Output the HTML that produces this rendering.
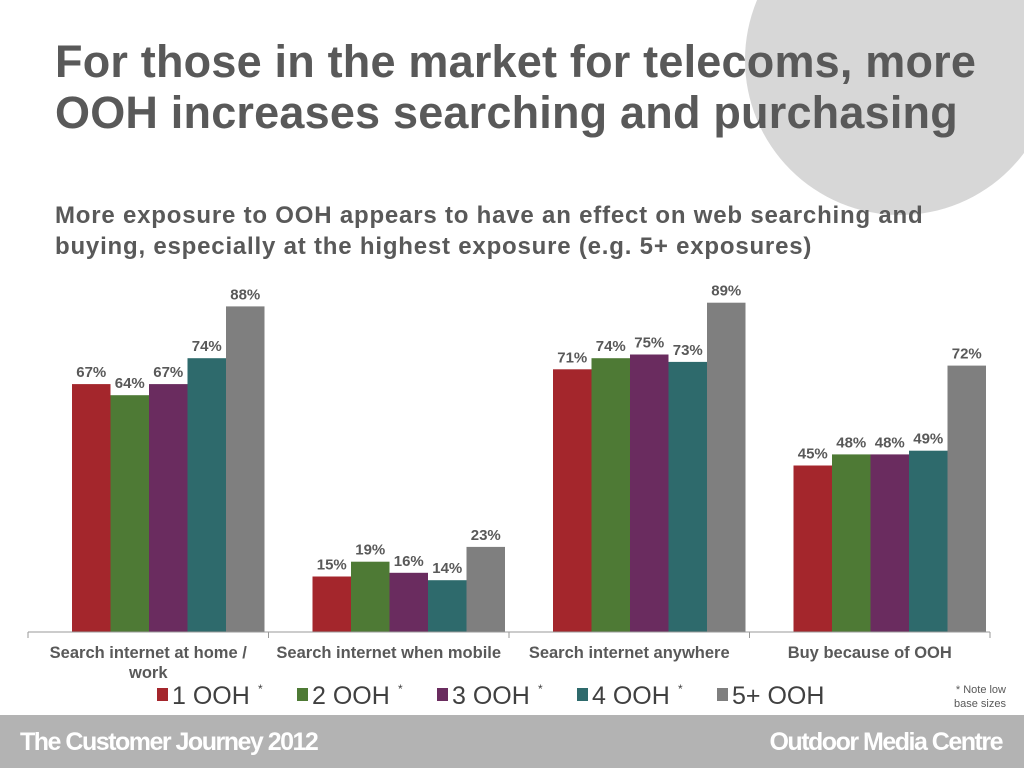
<!DOCTYPE html>
<html><head><meta charset="utf-8"><style>
body{margin:0;width:1024px;height:768px;overflow:hidden;background:#fff;font-family:"Liberation Sans",sans-serif;position:relative}
.t{position:absolute;color:#595959;font-weight:bold;white-space:nowrap}
</style></head><body>
<div style="position:absolute;left:745px;top:-95px;width:310px;height:310px;border-radius:50%;background:#d7d7d7"></div>
<div class="t" style="left:55px;top:36px;font-size:45px;line-height:51px;letter-spacing:0.2px">For those in the market for telecoms, more<br>OOH increases searching and purchasing</div>
<div class="t" style="left:55px;top:200px;font-size:24px;line-height:31px;letter-spacing:0.8px">More exposure to OOH appears to have an effect on web searching and<br>buying, especially at the highest exposure (e.g. 5+ exposures)</div>
<svg id="c" width="1024" height="768" style="position:absolute;left:0;top:0"></svg>
<div style="position:absolute;left:0;top:715px;width:1024px;height:53px;background:#b3b3b3">
<div style="position:absolute;left:20px;top:13px;color:#fff;font-weight:bold;font-size:25px;letter-spacing:-1.5px">The Customer Journey 2012</div>
<div style="position:absolute;right:22px;top:13px;color:#fff;font-weight:bold;font-size:25px;letter-spacing:-1.5px">Outdoor Media Centre</div>
</div>
<script>
const categories=["Search internet at home / work","Search internet when mobile","Search internet anywhere","Buy because of OOH"];
const s1=[67,15,71,45];
const s2=[64,19,74,48];
const s3=[67,16,75,48];
const s4=[74,14,73,49];
const s5=[88,23,89,72];
const seriesNames=["1 OOH","2 OOH","3 OOH","4 OOH","5+ OOH"];
const series=[s1,s2,s3,s4,s5];
const colors=["#a4262c","#4e7a35","#6a2c5f","#2e6a6c","#7f7f7f"];
const NS="http://www.w3.org/2000/svg",svg=document.getElementById('c');
const x0=28,x1=990,base=632,ppu=3.7,gw=(x1-x0)/categories.length,bw=38.5,off=44;
const y=v=>base-v*ppu;
function el(t,a){const e=document.createElementNS(NS,t);for(const k in a)e.setAttribute(k,a[k]);svg.appendChild(e);return e;}
categories.forEach((c,i)=>{
 series.forEach((s,j)=>{
  const bx=x0+i*gw+off+j*bw;
  const r=el('rect',{x:bx,y:y(s[i]),width:bw,height:s[i]*ppu,fill:colors[j]});
  
  
  const t=el('text',{x:bx+bw/2,y:y(s[i])-7,'text-anchor':'middle','font-size':15,'font-weight':'bold',fill:'#595959'});
  t.textContent=s[i]+'%';
  
  
 });
 const tk=el('line',{x1:x0+i*gw,x2:x0+i*gw,y1:base,y2:base+6,stroke:'#999'});
 
 
 const cx=x0+(i+0.5)*gw;
 let lines=i==0?["Search internet at home /","work"]:[c];
 lines.forEach((l,k)=>{
  const t=el('text',{x:cx,y:658+k*20,'text-anchor':'middle','font-size':16.5,'font-weight':'bold',fill:'#595959'});
  t.textContent=l;
  
  
 });
});
const ax=el('line',{x1:x0,x2:x1,y1:base,y2:base,stroke:'#999'});


const tl=el('line',{x1:x1,x2:x1,y1:base,y2:base+6,stroke:'#999'});


const lx=[157,297,437,577,717];
seriesNames.forEach((n,j)=>{
 const r=el('rect',{x:lx[j],y:688,width:11,height:13,fill:colors[j]});
 
 
 const t=el('text',{x:lx[j]+15,y:704,'font-size':25,fill:'#404040'});
 t.textContent=n;
 
 
 if(j<4){const a=el('text',{x:lx[j]+101,y:693,'font-size':12,fill:'#404040'});a.textContent='*';
 
 }
});
[["* Note low",693],["base sizes",707]].forEach(([s,yy])=>{
 const t=el('text',{x:1006,y:yy,'text-anchor':'end','font-size':11,fill:'#595959'});
 t.textContent=s;
 
 
});
</script>
</body></html>
